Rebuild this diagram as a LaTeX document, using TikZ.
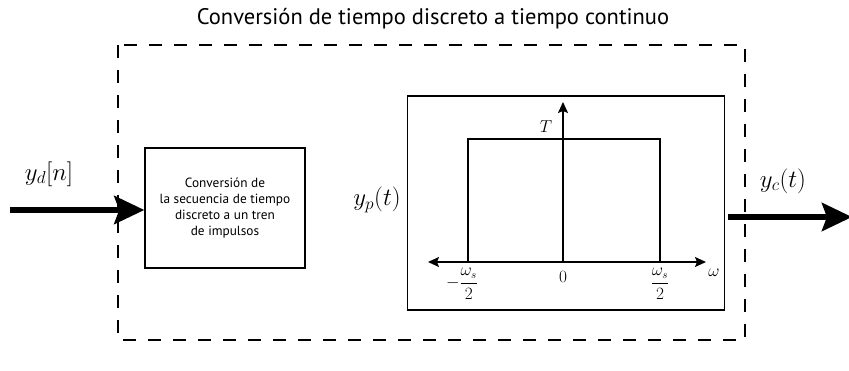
\documentclass[tikz,border=0pt]{standalone}
\usepackage{fontspec}
\setmainfont{PT Sans}
\usetikzlibrary{arrows.meta}

\begin{document}
\begin{tikzpicture}[x=1pt, y=-1pt,
    bigarrow/.style={line width=6pt, -{Stealth[length=30pt, width=28pt, inset=5pt]}},
    axisarrow/.style={line width=1.4pt, -{Stealth[length=11pt, width=10pt, inset=2pt]}},
    block/.style={draw, line width=1.4pt, align=center},
    sig/.style={font=\fontsize{23}{25}\selectfont},
    tick/.style={font=\fontsize{16}{18}\selectfont},
]
\useasboundingbox (0,0) rectangle (849,371);

\node[font=\fontsize{22.5}{26}\selectfont] (title) at (433,19) {Conversión de tiempo discreto a tiempo continuo};
\draw[line width=1.4pt, dash pattern=on 13pt off 12pt] (118,45) rectangle (745,340);

% block 1
\node[block, minimum width=160pt, minimum height=120pt, font=\fontsize{13.3}{16}\selectfont] (conv) at (225,208)
  {Conversión de\\la secuencia de tiempo\\discreto a un tren\\de impulsos};
\coordinate (in) at (10,210);
\draw[bigarrow] (in) -- (conv.west |- in);
\node[sig] (yd) at (49,174) {$y_d[n]$};
\node[sig] (yp) at (377,200) {$y_p(t)$};

% block 2 : filtro
\node[block, minimum width=317pt, minimum height=214pt] (spec) at (566,203) {};
\coordinate (O) at (563,262);
\coordinate (top) at (563,102);
\coordinate (wl) at (428,262);
\coordinate (wr) at (706,262);
\draw[axisarrow] (O) -- (top);
\draw[axisarrow, {Stealth[length=11pt, width=10pt, inset=2pt]}-{Stealth[length=11pt, width=10pt, inset=2pt]}] (wl) -- (wr);
\draw[line width=1.4pt] (468,262) -- (468,139) -- (660,139) -- (660,262);
\node[tick] (T) at (546,127) {$T$};
\node[tick] (w) at (714,273) {$\omega$};
\node[tick] (zero) at (563,277) {$0$};
\node[tick] (wsl) at (462,284) {$\displaystyle-\frac{\omega_s}{2}$};
\node[tick] (wsr) at (660,284) {$\displaystyle\frac{\omega_s}{2}$};

\coordinate (out) at (852,217);
\draw[bigarrow] (spec.east |- out) ++(3,0) -- (out);
\node[sig] (yc) at (783,181) {$y_c(t)$};
\end{tikzpicture}
\end{document}
